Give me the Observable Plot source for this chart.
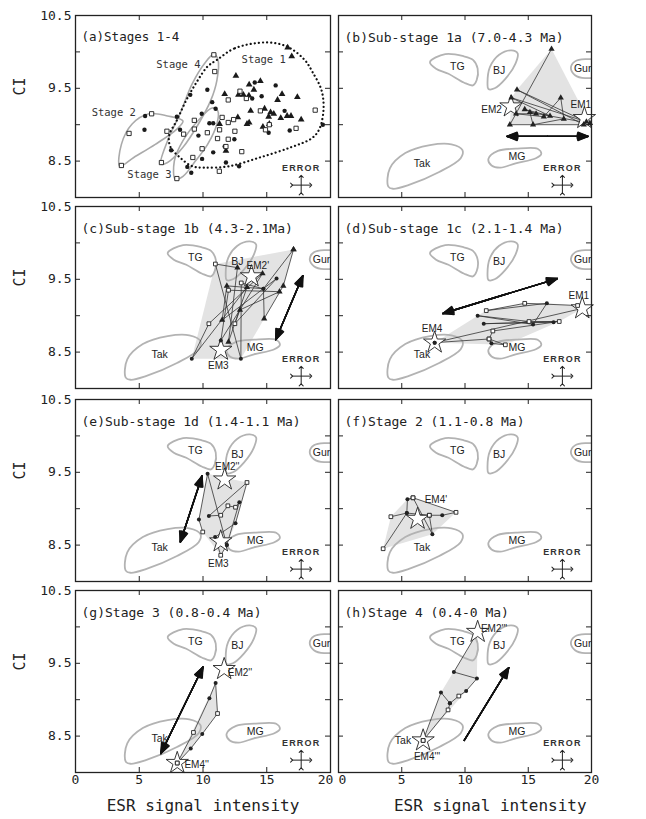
<!DOCTYPE html>
<html><head><meta charset="utf-8">
<script src="https://cdn.jsdelivr.net/npm/d3@7"></script>
<script src="https://cdn.jsdelivr.net/npm/@observablehq/plot@0.6"></script>
<style>
html,body{margin:0;padding:0;background:#fff;}
#fig{position:relative;width:646px;height:819px;overflow:hidden;background:#fff;}
</style></head><body><div id="fig"></div>
<script>
// ---------- axes ----------
const xTicks = [0, 5, 10, 15, 20];
const xInner = [5, 10, 15];
const yLabels = [8.5, 9.5, 10.5];
const yInner = [8.5, 9, 9.5, 10];
const xTitle = "ESR signal intensity";
const xTitlePos = [10, 12];
const yTitle = "CI";
const yTitlePos = 9.4;

const panelIds = ["a", "b", "c", "d", "e", "f", "g", "h"];
const titles = ["(a)Stages 1-4", "(b)Sub-stage 1a (7.0-4.3 Ma)", "(c)Sub-stage 1b (4.3-2.1Ma)",
  "(d)Sub-stage 1c (2.1-1.4 Ma)", "(e)Sub-stage 1d (1.4-1.1 Ma)", "(f)Stage 2 (1.1-0.8 Ma)",
  "(g)Stage 3 (0.8-0.4 Ma)", "(h)Stage 4 (0.4-0 Ma)"];

// ---------- reference source fields (outline vertices: ESR, CI) ----------
const TG = [[7.23,9.86],[8.44,9.97],[9.9,9.94],[10.63,9.89],[11.0,9.77],[10.92,9.61],[10.63,9.54],[9.9,9.58],[8.69,9.70],[7.71,9.77]];
const BJ = [[11.78,9.56],[11.97,9.79],[12.7,9.96],[13.67,10.02],[14.16,9.98],[13.99,9.84],[13.19,9.63],[12.34,9.5],[11.85,9.49]];
const Gur = [[18.37,9.78],[18.7,9.87],[19.5,9.9],[20.5,9.88],[21,9.78],[20.5,9.67],[19.5,9.64],[18.7,9.68]];
const Tak = [[3.94,8.15],[4.06,8.40],[5.28,8.61],[7.23,8.72],[8.93,8.73],[9.8,8.65],[9.66,8.54],[7.96,8.35],[5.52,8.17],[4.31,8.12]];
const MG = [[11.85,8.53],[12.6,8.64],[14.0,8.67],[15.74,8.67],[16.03,8.6],[15.6,8.54],[14.0,8.47],[12.8,8.41],[12.1,8.44]];
const fieldNames = ["TG", "BJ", "Gur", "Tak", "MG"];
const fieldLabelX = [9.4, 12.7, 19.3, 6.6, 14.1];
const fieldLabelY = [9.80, 9.74, 9.77, 8.47, 8.56];
const takLabelH = [5.1, 8.44];

// ---------- panel (a) ----------
const aSquares = [[3.6,8.44],[4.2,8.88],[5.97,9.15],[7.17,8.91],[6.74,8.48],[8.48,8.87],[9.32,8.94],[9.32,9.06],[9.2,8.55],[9.93,8.67],[7.95,8.26],[10.85,9.96],[10.92,9.73],[10.34,8.89],[11.3,8.93],[11.14,8.81],[11.28,8.36],[11.5,9.1],[11.98,9.03],[11.98,8.8],[12.4,9.07],[12.5,8.91],[11.8,8.7],[13.04,8.63],[12.9,9.46],[11.98,9.34],[13.4,9.36],[14.5,9.19],[14.9,8.93],[15.2,9.0],[17.3,8.95],[18.8,9.2]];
const aCircles = [[5.46,9.12],[5.41,8.93],[7.5,8.65],[7.95,9.11],[8.2,8.93],[9.0,9.41],[8.77,8.42],[9.08,8.34],[9.64,8.85],[9.9,9.15],[9.93,8.53],[10.34,9.48],[10.72,9.31],[10.5,9.02],[10.8,8.62],[10.99,9.22],[10.8,9.02],[11.8,8.48],[11.7,8.7],[12.46,8.8],[12.83,8.43],[13.86,9.36],[14.6,9.39],[14.06,9.58],[15.7,9.54],[16.4,9.19],[15.15,8.89],[16.8,8.92],[19.4,9.0]];
const aTriangles = [[16.64,10.06],[16.96,9.94],[12.58,9.67],[13.62,9.55],[13.99,9.48],[14.5,9.6],[11.7,9.42],[12.78,9.41],[13.17,9.41],[13.6,9.4],[16.2,9.42],[15.85,9.34],[17.4,9.38],[13.74,9.19],[14.83,9.22],[15.3,9.17],[15.15,9.11],[15.55,9.15],[16.1,9.09],[16.6,9.12],[16.9,9.12],[17.7,9.07],[14.7,8.97],[13.62,9.03],[13.45,9.01],[12.73,9.1],[11.3,9.01],[11.8,8.64],[15.2,9.01]];
const stage1 = [[11.09,9.89],[12.5,10.05],[14.95,10.13],[16.64,10.07],[17.97,9.89],[18.6,9.72],[19.3,9.47],[19.45,9.2],[19.1,8.93],[18.5,8.81],[16.9,8.69],[14.47,8.55],[12.05,8.43],[10.12,8.41],[9.15,8.43],[8.19,8.55],[7.46,8.69],[7.34,8.85],[7.95,9.06],[8.67,9.33],[9.52,9.59],[10.36,9.8]];
const stage2 = [[3.48,8.43],[3.6,8.73],[4.44,9.01],[5.77,9.15],[7.22,9.12],[8.43,9.05],[7.95,8.94],[6.26,8.73],[4.57,8.55]];
const stage3 = [[7.83,8.25],[7.75,8.5],[8.43,8.78],[9.64,9.06],[10.72,9.23],[11.16,9.19],[11.09,9.01],[10.36,8.73],[9.4,8.5],[8.43,8.29]];
const stage4 = [[6.69,8.46],[7.22,8.78],[8.19,9.15],[9.15,9.56],[10.12,9.84],[10.85,9.97],[11.18,9.89],[11.09,9.61],[10.6,9.33],[9.64,9.01],[8.43,8.69],[7.22,8.48]];
const stageLabelText = ["Stage 1", "Stage 2", "Stage 3", "Stage 4"];
const stageLabelX = [14.76, 3.0, 5.8, 8.07];
const stageLabelY = [9.89, 9.17, 8.31, 9.83];

// ---------- panels (b)-(h): samples in drawing order [ESR, CI, symbol, path] ----------
// symbol: c = circle, t = triangle, s = square, x = end-member (no symbol)
const bPts = [[16.84,10.04,"t"],[13.55,9.0,"t"],[19.39,9.0,"t"],[14.11,9.48,"t"],[19.6,9.04,"t"],[13.67,9.37,"t"],[16.72,9.12,"t"],[14.72,9.21,"t"],[15.62,9.15,"t"],[14.04,9.15,"t"],[16.23,9.11,"t"],[17.57,9.37,"t"],[17.81,9.08,"t"],[15.38,9.0,"t"],[15.13,9.17,"t"],[19.88,9.02,"t"]];
const cPts = [[17.1,9.91,"t"],[16.3,9.41,"t"],[14.8,8.96,"t"],[14.74,9.37,"c"],[13.0,9.45,"s"],[12.97,8.41,"c"],[10.97,9.71,"s"],[12.7,9.66,"t"],[12.0,8.64,"t"],[13.45,9.39,"t"],[9.12,8.41,"c"],[10.46,8.89,"s"],[14.67,9.58,"t"],[11.4,8.66,"c"],[12.0,9.35,"s"],[16.0,9.33,"t"],[12.9,9.08,"t"],[12.5,8.89,"s"],[15.77,9.51,"c"],[11.5,8.94,"t"],[11.87,9.41,"t"],[14.74,9.37,"c"],[17.1,9.91,"t"]];
const dPts = [[7.6,8.63,"c"],[19.27,9.1,"x"],[18.9,9.14,"s"],[14.72,9.17,"s"],[11.68,9.07,"s"],[16.47,9.17,"c"],[15.38,8.88,"c"],[11.0,9.0,"c"],[15.06,8.92,"s"],[17.45,8.92,"s"],[11.48,8.89,"c"],[17.0,8.91,"c"],[12.2,8.79,"s"],[11.9,8.68,"s"],[12.09,8.62,"c"],[13.19,8.60,"s"],[11.9,8.68,"s"],[7.6,8.63,"c"]];
const ePts = [[9.98,8.68,"s"],[9.68,8.85,"c"],[10.36,9.48,"c"],[11.87,8.50,"c"],[11.39,8.36,"s"],[10.95,8.61,"c"],[12.55,8.80,"c"],[13.45,9.36,"s"],[10.46,8.9,"c"],[11.39,8.91,"s"],[11.95,9.04,"s"],[12.55,9.02,"s"],[12.85,9.09,"c"],[11.87,8.50,"c"]];
const fPts = [[3.53,8.45,"s",1],[5.4,8.94,"c",1],[5.45,9.13,"c",1],[5.89,9.15,"s",1],[9.29,8.95,"s",1],[8.2,8.91,"c",1],[7.18,8.91,"s",1],[5.4,8.94,"c",1],[4.14,8.89,"s",1],
  [5.89,9.15,"s",2],[7.42,8.65,"c",2],[7.18,8.91,"s",2]];
const gPts = [[7.98,8.13,"s"],[9.25,8.55,"s"],[10.5,9.02,"c"],[10.99,9.23,"c"],[11.14,8.81,"s"],[9.94,8.53,"c"],[9.04,8.33,"c"],[7.98,8.13,"s"]];
const hPts = [[6.69,8.44,"s",1],[8.1,9.1,"c",1],[8.81,8.95,"c",1],[9.51,9.05,"s",1],[10.09,9.12,"c",1],[10.94,9.29,"c",1],[9.12,9.38,"c",1],[11.0,9.93,"x",1],
  [6.69,8.44,"s",2],[8.66,8.86,"s",2],[8.81,8.95,"c",2]];
const samples = {b: bPts, c: cPts, d: dPts, e: ePts, f: fPts, g: gPts, h: hPts};

// end-member stars
const stars = [
  {p:"b", x:13.63, y:9.25}, {p:"b", x:19.44, y:9.09},
  {p:"c", x:13.8, y:9.54}, {p:"c", x:11.4, y:8.53},
  {p:"d", x:7.6, y:8.63}, {p:"d", x:19.27, y:9.1},
  {p:"e", x:11.7, y:9.40}, {p:"e", x:11.39, y:8.55},
  {p:"f", x:6.25, y:8.86},
  {p:"g", x:7.98, y:8.13}, {p:"g", x:11.66, y:9.42},
  {p:"h", x:11.0, y:9.93}, {p:"h", x:6.69, y:8.44}];
const emLabels = [
  {p:"b", x:12.1, y:9.21, t:"EM2"}, {p:"b", x:19.15, y:9.27, t:"EM1"},
  {p:"c", x:14.3, y:9.68, t:"EM2'"}, {p:"c", x:11.2, y:8.31, t:"EM3"},
  {p:"d", x:7.4, y:8.82, t:"EM4"}, {p:"d", x:19.0, y:9.27, t:"EM1"},
  {p:"e", x:11.9, y:9.58, t:"EM2''"}, {p:"e", x:11.2, y:8.24, t:"EM3"},
  {p:"f", x:7.7, y:9.12, t:"EM4'"},
  {p:"g", x:9.5, y:8.11, t:"EM4''"}, {p:"g", x:12.9, y:9.37, t:"EM2''"},
  {p:"h", x:12.3, y:9.98, t:"EM2'''"}, {p:"h", x:7.0, y:8.22, t:"EM4'''"}];
// trend arrows
const trendArrows = [
  {p:"b", x1:13.3, y1:8.84, x2:19.75, y2:8.84, both:true},
  {p:"c", x1:17.83, y1:9.55, x2:15.7, y2:8.67, both:true},
  {p:"d", x1:17.3, y1:9.51, x2:8.25, y2:9.03, both:true},
  {p:"e", x1:9.93, y1:9.45, x2:8.22, y2:8.54, both:true},
  {p:"g", x1:10.0, y1:9.45, x2:6.69, y2:8.26, both:true},
  {p:"h", x1:9.94, y1:8.44, x2:13.46, y2:9.44, both:false}];
// analytical error
const errCenter = [17.7, 8.17];
const errSize = [0.75, 0.12];
const errLabelY = 8.40;

// ---------- layout ----------
const colLeft = [75, 338], PW = [255, 253];
const rowTop = [15, 206, 399, 590], PH = 182;
const mono = "'DejaVu Sans Mono', monospace";
const narrow = "'Liberation Sans Narrow', 'Liberation Sans', Arial, sans-serif";

const fieldRows = [TG, BJ, Gur, Tak, MG].flatMap((pts, i) => pts.map(([x, y]) => ({n: fieldNames[i], x, y})));
const toRows = pts => pts.map(([x, y]) => ({x, y}));
const stageRows = [stage2, stage3, stage4].flatMap((pts, i) => pts.map(([x, y]) => ({s: i, x, y})));
const errRows = [
  {x1: errCenter[0] - errSize[0], x2: errCenter[0] + errSize[0], y1: errCenter[1], y2: errCenter[1]},
  {x1: errCenter[0], x2: errCenter[0], y1: errCenter[1] - errSize[1], y2: errCenter[1] + errSize[1]}];

function arrowMarks(list) {
  const segs = list.flatMap(a => {
    if (!a.both) return [a];
    const mx = (a.x1 + a.x2) / 2, my = (a.y1 + a.y2) / 2;
    return [{x1: mx, y1: my, x2: a.x1, y2: a.y1}, {x1: mx, y1: my, x2: a.x2, y2: a.y2}];
  });
  return [6, 14, 22, 30, 38, 44].map(ang => Plot.arrow(segs, {
    x1: "x1", y1: "y1", x2: "x2", y2: "y2", headAngle: ang, headLength: 12,
    stroke: "#111", strokeWidth: 1.4}));
}

const fig = document.getElementById("fig");

panelIds.forEach((p, i) => {
  const col = i % 2, row = Math.floor(i / 2);
  const mL = col === 0 ? 75 : 6, mR = col === 0 ? 4 : 8, mT = 12, mB = row === 3 ? 50 : 6;
  const marks = [];
  if (p === "a") {
    marks.push(Plot.line(stageRows, {x: "x", y: "y", z: "s", curve: "catmull-rom-closed", stroke: "#aaa", strokeWidth: 1.6}));
    marks.push(Plot.line(toRows(stage1), {x: "x", y: "y", curve: "catmull-rom-closed", stroke: "#111", strokeWidth: 2.2, strokeDasharray: "0.1,4", strokeLinecap: "round"}));
    marks.push(Plot.dot(toRows(aCircles), {x: "x", y: "y", r: 2.2, fill: "#1a1a1a"}));
    marks.push(Plot.dot(toRows(aTriangles), {x: "x", y: "y", r: 2.5, symbol: "triangle", fill: "#1a1a1a"}));
    marks.push(Plot.dot(toRows(aSquares), {x: "x", y: "y", r: 2.4, symbol: "square", fill: "white", stroke: "#1a1a1a", strokeWidth: 0.9}));
    marks.push(Plot.text(stageLabelText.map((t, k) => ({t, x: stageLabelX[k], y: stageLabelY[k]})),
      {x: "x", y: "y", text: "t", fontFamily: mono, fontSize: 10.5, fill: "#333"}));
  } else {
    const pts = samples[p].map(([x, y, t, g]) => ({x, y, t, g: g || 1}));
    marks.push(Plot.hull(pts, {x: "x", y: "y", fill: "#e3e3e3", stroke: "none"}));
    marks.push(Plot.line(fieldRows, {x: "x", y: "y", z: "n", curve: "catmull-rom-closed", stroke: "#b3b3b3", strokeWidth: 1.8, clip: true}));
    const fl = fieldNames.map((n, k) => ({n, x: fieldLabelX[k], y: fieldLabelY[k]}));
    if (p === "h") { fl[3].x = takLabelH[0]; fl[3].y = takLabelH[1]; }
    marks.push(Plot.text(fl, {x: "x", y: "y", text: "n", fontFamily: narrow, fontSize: 10.5, fill: "#222", clip: true}));
    marks.push(Plot.line(pts, {x: "x", y: "y", z: "g", stroke: "#333", strokeWidth: 0.8}));
    marks.push(...arrowMarks(trendArrows.filter(a => a.p === p)));
    marks.push(Plot.dot(stars.filter(s => s.p === p), {x: "x", y: "y", symbol: "star", r: 7, fill: "white", stroke: "#222", strokeWidth: 0.9}));
    marks.push(Plot.dot(pts.filter(d => d.t === "c"), {x: "x", y: "y", r: 2.0, fill: "#222"}));
    marks.push(Plot.dot(pts.filter(d => d.t === "t"), {x: "x", y: "y", r: 2.3, symbol: "triangle", fill: "#222"}));
    marks.push(Plot.dot(pts.filter(d => d.t === "s"), {x: "x", y: "y", r: 2.1, symbol: "square", fill: "white", stroke: "#222", strokeWidth: 0.9}));
    marks.push(Plot.text(emLabels.filter(d => d.p === p), {x: "x", y: "y", text: "t", fontFamily: narrow, fontSize: 10, fill: "#222"}));
  }
  // analytical error cross
  marks.push(Plot.link(errRows, {x1: "x1", y1: "y1", x2: "x2", y2: "y2", stroke: "#222", strokeWidth: 1, markerStart: "arrow", markerEnd: "arrow"}));
  marks.push(Plot.text([{x: errCenter[0], y: errLabelY, t: "ERROR"}], {x: "x", y: "y", text: "t", fontFamily: "'Liberation Sans', Arial, sans-serif", fontWeight: "bold", fontSize: 9, fill: "#333"}));
  // inward ticks
  marks.push(Plot.ruleX(xInner, {insetBottom: PH - 5, stroke: "#222"}));
  marks.push(Plot.ruleX(xInner, {insetTop: PH - 5, stroke: "#222"}));
  marks.push(Plot.ruleY(yInner, {insetRight: PW[col] - 5, stroke: "#222"}));
  marks.push(Plot.ruleY(yInner, {insetLeft: PW[col] - 5, stroke: "#222"}));
  marks.push(Plot.frame({stroke: "#222", strokeWidth: 1.3}));
  marks.push(Plot.text([titles[i]], {frameAnchor: "top-left", dx: 6, dy: 17, text: d => d, fontFamily: mono, fontSize: p === "a" ? 12.5 : 13, fill: "#222"}));
  if (col === 0) marks.push(Plot.text([{y: yTitlePos, t: yTitle}], {y: "y", frameAnchor: "left", dx: -55, rotate: -90, text: "t", fontFamily: mono, fontSize: 15, fill: "#222"}));
  if (row === 3) {
    // x tick labels; the shared corner labels (left 20 / right 0) are nudged apart
    const edge = col === 0 ? 20 : 0;
    const tickText = {text: d => String(d), frameAnchor: "bottom", dy: 11, fontFamily: mono, fontSize: 13, fill: "#222"};
    marks.push(Plot.text(xTicks.filter(t => t !== edge), {x: d => d, ...tickText}));
    marks.push(Plot.text(xTicks.filter(t => t === edge), {x: d => d, ...tickText, dx: col === 0 ? -5 : 4}));
    marks.push(Plot.text([{x: xTitlePos[col], t: xTitle}], {x: "x", frameAnchor: "bottom", dy: 38, text: "t", fontFamily: mono, fontSize: 16, fill: "#222"}));
  }

  const svg = Plot.plot({
    width: mL + PW[col] + mR, height: mT + PH + mB,
    marginLeft: mL, marginRight: mR, marginTop: mT, marginBottom: mB,
    x: {domain: [0, 20], label: null, axis: null},
    y: {domain: [8, 10.5], ticks: yLabels, tickSize: 0, tickPadding: 4, tickFormat: d3.format(".1f"), label: null, axis: col === 0 ? "left" : null},
    style: {fontFamily: mono, fontSize: "13px", color: "#222", background: "transparent", overflow: "visible"},
    marks
  });
  svg.style.position = "absolute";
  svg.style.left = (colLeft[col] - mL) + "px";
  svg.style.top = (rowTop[row] - mT) + "px";
  svg.querySelectorAll("text").forEach(t => { if (t.textContent === "ERROR") t.style.letterSpacing = "1.2px"; });
  fig.appendChild(svg);
});
</script></body></html>
